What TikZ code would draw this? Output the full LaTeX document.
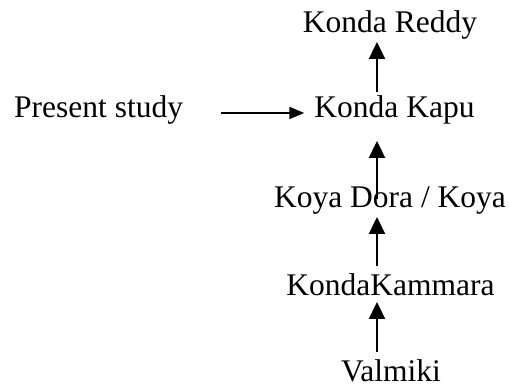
\documentclass[tikz,border=0pt]{standalone}
\usepackage{fontspec}
\setmainfont{Liberation Serif}
\usetikzlibrary{arrows.meta,calc}
\begin{document}
\begin{tikzpicture}[x=1pt,y=1pt,
  lbl/.style={inner sep=0pt, anchor=base, font=\fontsize{31.5}{36}\selectfont},
  uparr/.style={line width=2.3pt, -{Triangle[length=17pt,width=16pt]}},
  rarr/.style={line width=2pt, -{Triangle[length=15pt,width=12pt]}}]
\useasboundingbox (0,0) rectangle (509,387);
\coordinate (ax) at (377,0);
\node[lbl] (reddy) at (390,354) {Konda Reddy};
\node[lbl] (kapu) at (394.5,269) {Konda Kapu};
\node[lbl,anchor=base west] (study) at (14,269) {Present study};
\node[lbl] (koya) at (390,179) {Koya Dora / Koya};
\node[lbl] (kamm) at (390.5,91) {KondaKammara};
\node[lbl] (valm) at (391,5) {Valmiki};
\draw[uparr] ($(kapu.base -| ax)+(0,26)$) -- ($(reddy.base -| ax)+(0,-9)$);
\draw[uparr] ($(koya.base -| ax)+(0,9)$) -- ($(kapu.base -| ax)+(0,-23)$);
\draw[uparr] ($(kamm.base -| ax)+(0,30)$) -- ($(koya.base -| ax)+(0,-9)$);
\draw[uparr] ($(valm.base -| ax)+(0,30)$) -- ($(kamm.base -| ax)+(0,-6)$);
\draw[rarr] ($(study.base east)+(38,5)$) -- ($(kapu.base west)+(-10,5)$);
\end{tikzpicture}
\end{document}
